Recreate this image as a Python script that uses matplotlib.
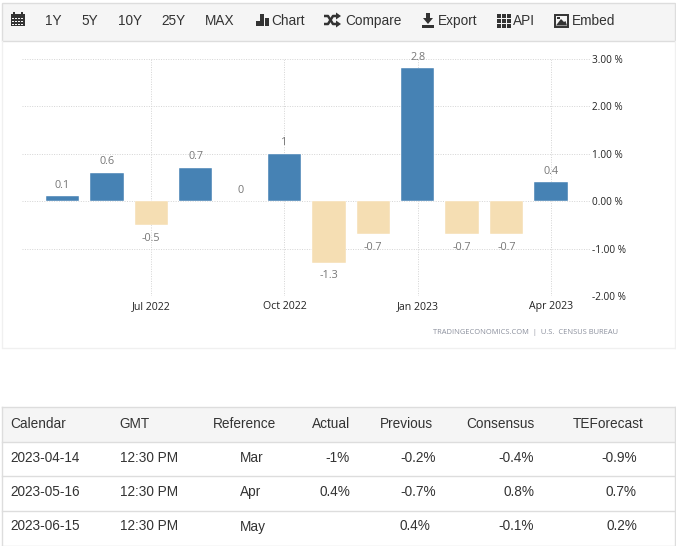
import matplotlib
matplotlib.use('Agg')
import matplotlib.pyplot as plt
from matplotlib.patches import Rectangle, Polygon

# Data
months = ['May 2022', 'Jun 2022', 'Jul 2022', 'Aug 2022', 'Sep 2022', 'Oct 2022',
          'Nov 2022', 'Dec 2022', 'Jan 2023', 'Feb 2023', 'Mar 2023', 'Apr 2023']
values = [0.1, 0.6, -0.5, 0.7, 0, 1, -1.3, -0.7, 2.8, -0.7, -0.7, 0.4]
value_labels = ['0.1', '0.6', '-0.5', '0.7', '0', '1', '-1.3', '-0.7', '2.8', '-0.7', '-0.7', '0.4']
xtick_months = ['Jul 2022', 'Oct 2022', 'Jan 2023', 'Apr 2023']
yticks = [3, 2, 1, 0, -1, -2]

ranges = ['1Y', '5Y', '10Y', '25Y', 'MAX']
range_x = [45, 81, 118, 161, 205]
tools = ['Chart', 'Compare', 'Export', 'API', 'Embed']
tool_x = [271, 345, 438, 513, 572]

columns = ['Calendar', 'GMT', 'Reference', 'Actual', 'Previous', 'Consensus', 'TEForecast']
column_x = [10.5, 119.5, 213, 312, 380, 466, 573]
calendar = ['2023-04-14', '2023-05-16', '2023-06-15']
gmt = ['12:30 PM', '12:30 PM', '12:30 PM']
reference = ['Mar', 'Apr', 'May']
actual = ['-1%', '0.4%', '']
previous = ['-0.2%', '-0.7%', '0.4%']
consensus = ['-0.4%', '0.8%', '-0.1%']
teforecast = ['-0.9%', '0.7%', '0.2%']

BLUE = '#4682b4'
SAND = '#f5deb3'
TEXT = '#333333'
LINE = '#dddddd'
W, H = 676, 546
UI_FONT = 'Liberation Sans'
CHART_FONT = 'Open Sans'
UI_SIZE = 9.8

fig = plt.figure(figsize=(W / 100, H / 100), dpi=100, facecolor='white')

# Page layer in pixel coordinates (toolbar, table, frames)
page = fig.add_axes([0, 0, 1, 1])
page.set_xlim(0, W)
page.set_ylim(H, 0)
page.axis('off')

# Toolbar
page.add_patch(Rectangle((1.5, 2.5), 673, 38, fc='#f5f5f5', ec=LINE, lw=1))
for label, x in zip(ranges, range_x):
    page.text(x, 21, label, fontsize=UI_SIZE, family=UI_FONT, color=TEXT, va='center')
for label, x in zip(tools, tool_x):
    page.text(x, 21, label, fontsize=UI_SIZE, family=UI_FONT, color=TEXT, va='center')

# Toolbar icons
ICON = '#333333'
# calendar
page.add_patch(Rectangle((11, 14), 14, 12, fc=ICON, ec='none'))
for gx in range(12, 24, 3):
    for gy in (18, 21, 24):
        page.add_patch(Rectangle((gx + 0.3, gy - 0.5), 2, 1.6, fc='#f5f5f5', ec='none'))
page.add_patch(Rectangle((13, 12), 2, 3, fc=ICON, ec='none'))
page.add_patch(Rectangle((21, 12), 2, 3, fc=ICON, ec='none'))
# bar chart
for bx, top in zip((256, 260, 265), (21, 14, 18)):
    page.add_patch(Rectangle((bx, top), 3.5, 26 - top, fc=ICON, ec='none'))
# shuffle arrows
page.plot([324, 328, 333, 337], [16, 16, 24, 24], color=ICON, lw=1.8, solid_capstyle='butt')
page.plot([324, 328, 333, 337], [24, 24, 16, 16], color=ICON, lw=1.8, solid_capstyle='butt')
page.add_patch(Polygon([(336, 12.5), (341, 16), (336, 19.5)], fc=ICON, ec='none'))
page.add_patch(Polygon([(336, 20.5), (341, 24), (336, 27.5)], fc=ICON, ec='none'))
# download
page.add_patch(Rectangle((426, 13), 4, 6, fc=ICON, ec='none'))
page.add_patch(Polygon([(423, 18), (433, 18), (428, 24)], fc=ICON, ec='none'))
page.add_patch(Rectangle((422, 25), 12, 2.5, fc=ICON, ec='none'))
# grid
for gx in (497, 502, 507):
    for gy in (14, 19, 24):
        page.add_patch(Rectangle((gx, gy), 3.6, 3.6, fc=ICON, ec='none'))
# picture
page.add_patch(Rectangle((555, 14.5), 13, 12, fc='#f5f5f5', ec=ICON, lw=1.4))
page.add_patch(Polygon([(556, 25.5), (561, 19), (564, 22), (565.5, 21), (567, 25.5)], fc=ICON, ec='none'))
page.add_patch(Rectangle((557, 16.5), 2.5, 2.5, fc=ICON, ec='none'))

# Frame around the chart
page.plot([1.5, 1.5, 675], [41, 347.5, 347.5], color='#f0f0f0', lw=1)
page.plot([675, 675], [41, 347.5], color='#f0f0f0', lw=1)

# Source line
page.text(618, 333, 'TRADINGECONOMICS.COM  |  U.S.  CENSUS BUREAU', fontsize=5.4, family=CHART_FONT,
          color='#8a8f9c', ha='right', va='center')

# Table
row_lines = [406.5, 441.5, 475.5, 510.5, 545.5]
page.add_patch(Rectangle((1.5, 406.5), 673, 35, fc='#f5f5f5', ec='none'))
for y in row_lines:
    page.plot([1.5, 675], [y, y], color=LINE, lw=1)
page.plot([1.5, 1.5], [406.5, 545.5], color=LINE, lw=1)
page.plot([675, 675], [406.5, 545.5], color=LINE, lw=1)

for label, x in zip(columns, column_x):
    page.text(x, 423.5, label, fontsize=UI_SIZE, family=UI_FONT, color=TEXT, va='center')

row_y = [458, 492, 526.5]
for i, y in enumerate(row_y):
    page.text(10.5, y, calendar[i], fontsize=UI_SIZE, family=UI_FONT, color=TEXT, va='center')
    page.text(119.5, y, gmt[i], fontsize=UI_SIZE, family=UI_FONT, color=TEXT, va='center')
    page.text(240, y, reference[i], fontsize=UI_SIZE, family=UI_FONT, color=TEXT, va='center')
    page.text(350, y, actual[i], fontsize=UI_SIZE, family=UI_FONT, color=TEXT, va='center', ha='right')
    page.text(400, y, previous[i], fontsize=UI_SIZE, family=UI_FONT, color=TEXT, va='center')
    page.text(534, y, consensus[i], fontsize=UI_SIZE, family=UI_FONT, color=TEXT, va='center', ha='right')
    page.text(637, y, teforecast[i], fontsize=UI_SIZE, family=UI_FONT, color=TEXT, va='center', ha='right')

# Chart: 0 at x=62.5, one month = 44.4 px; y=3 at 59 px and y=-2 at 296 px
left, right, top, bottom = 22, 590, 59, 296
ax = fig.add_axes([left / W, 1 - bottom / H, (right - left) / W, (bottom - top) / H])
ax.patch.set_alpha(0)
ax.set_xlim((left - 62.5) / 44.4, (right - 62.5) / 44.4)
ax.set_ylim(-2, 3)
for s in ax.spines.values():
    s.set_visible(False)

x = list(range(len(months)))
colors = [BLUE if v > 0 else SAND for v in values]
ax.bar(x, values, width=0.75, color=colors, edgecolor='#ffffff', linewidth=0.3, zorder=3)

ax.set_yticks(yticks)
ax.set_yticklabels(['%.2f %%' % v for v in yticks])
ax.yaxis.tick_right()
ax.set_xticks([months.index(m) for m in xtick_months])
ax.set_xticklabels(xtick_months)
ax.tick_params(length=0)
ax.tick_params(axis='y', pad=1.5, labelsize=7.2, labelcolor='#222222')
ax.tick_params(axis='x', pad=3.5, labelsize=7.6, labelcolor='#222222')
for lab in ax.get_xticklabels() + ax.get_yticklabels():
    lab.set_family(CHART_FONT)
ax.grid(True, color='#d4d4d4', lw=0.7, ls=(0, (1, 1.5)), zorder=0)
ax.set_axisbelow(True)

for xi, v, lab in zip(x, values, value_labels):
    if v < 0:
        ax.annotate(lab, (xi, v), xytext=(0, -5.5), textcoords='offset points', ha='center', va='top',
                    fontsize=7.8, family=CHART_FONT, color='#777777')
    else:
        ax.annotate(lab, (xi, v), xytext=(0, 4), textcoords='offset points', ha='center', va='bottom',
                    fontsize=7.8, family=CHART_FONT, color='#777777')

fig.savefig('out.png', dpi=100, facecolor='white')
